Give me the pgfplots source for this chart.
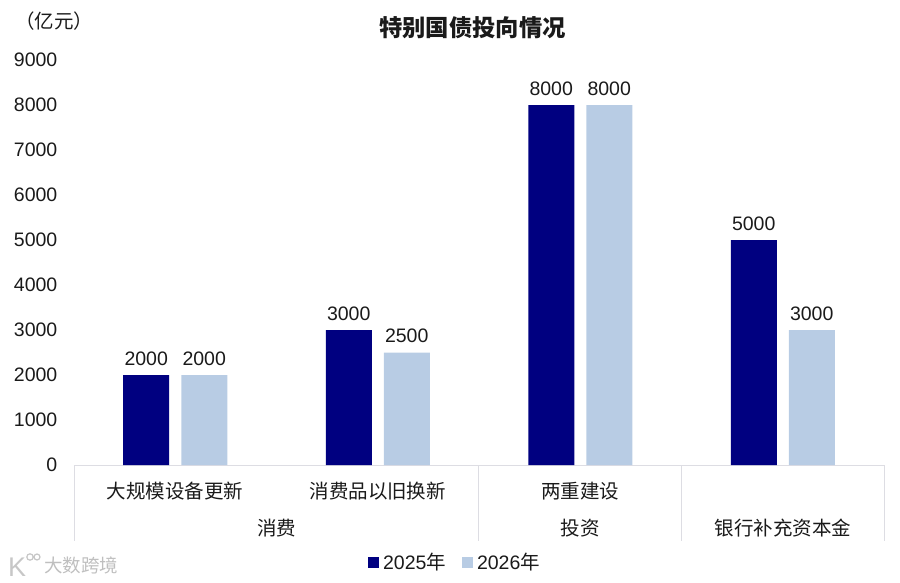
\documentclass[border=0pt]{standalone}
\usepackage{pgfplots}
\pgfplotsset{compat=1.18}
\usepackage{fontspec}
\setmainfont{Liberation Sans}
\newfontfamily\cjk{Noto Sans CJK SC}
\definecolor{navyb}{HTML}{000080}
\definecolor{lightb}{HTML}{B8CCE4}
\definecolor{sep}{HTML}{DDDDE3}
\definecolor{txt}{HTML}{1A1A1A}
\begin{document}
\begin{tikzpicture}[x=1pt,y=1pt]
\path[use as bounding box] (0,0) rectangle (900,582);
\begin{axis}[
  at={(74pt,117pt)}, anchor=south west,
  scale only axis, width=810pt, height=405pt,
  xmin=-0.5, xmax=3.5, ymin=0, ymax=9000,
  axis x line=bottom, axis y line=left,
  axis line style={-, draw=sep, line width=1pt},
  y axis line style={draw=none},
  ybar, bar width=46pt,
  xtick={0,1,2,3},
  xticklabels={{\cjk 大规模设备更新},{\cjk 消费品以旧换新},{\cjk 两重建设},{}},
  xtick style={draw=none},
  ytick={0,1000,...,9000},
  ytick style={draw=none},
  scaled y ticks=false,
  /pgf/number format/assume math mode=true,
  /pgf/number format/1000 sep={},
  tick label style={font=\fontsize{19.5}{21}\selectfont, text=txt},
  x tick label style={yshift=-9pt},
  y tick label style={xshift=-11pt},
  clip=false,
  nodes near coords,
  nodes near coords style={font=\fontsize{19.5}{21}\selectfont, text=txt, /pgf/number format/assume math mode=true, /pgf/number format/1000 sep={}, yshift=6pt},
  legend style={at={(381pt,-97pt)}, anchor=center, draw=none, fill=none, legend columns=2,
    font=\fontsize{19.5}{21}\selectfont, text=txt, /tikz/every even column/.append style={column sep=14pt},
    /tikz/every odd column/.append style={column sep=2pt},
    inner sep=0pt},
  legend image code/.code={\fill[#1,draw=none] (0pt,-5.5pt) rectangle (11pt,5.5pt);},
  legend cell align=left,
]
\addplot[fill=navyb, draw=none, bar shift=-29pt] coordinates {(0,2000)(1,3000)(2,8000)(3,5000)};
\addplot[fill=lightb, draw=none, bar shift=29pt] coordinates {(0,2000)(1,2500)(2,8000)(3,3000)};
\legend{2025{\cjk 年},2026{\cjk 年}}
\end{axis}
\draw[sep, line width=1pt] (74,117) -- (74,41) (478.7,117) -- (478.7,41) (681,117) -- (681,41) (884,117) -- (884,41);
\tikzset{lab/.style={font=\fontsize{19.5}{21}\selectfont\cjk, text=txt, inner sep=0pt}}
\node[lab] at (276.5,54) {消费};
\node[lab] at (580,54) {投资};
\node[lab] at (783,54) {银行补充资本金};
\node[lab, anchor=center] at (54.5,561) {（亿元）};
\node[font=\fontsize{23.3}{25}\selectfont\cjk\bfseries, text=txt, inner sep=0pt] at (472.5,554) {特别国债投向情况};
\node[font=\fontsize{18.5}{20}\selectfont\cjk, text=black!25, inner sep=0pt, anchor=west] at (44,17) {大数跨境};
\node[font=\fontsize{27}{27}\selectfont, text=black!22, inner sep=0pt, anchor=west] at (8,15) {K};
\draw[black!22, line width=1.2pt] (30,25) circle (3.2) (37,25) circle (3);
\end{tikzpicture}
\end{document}
